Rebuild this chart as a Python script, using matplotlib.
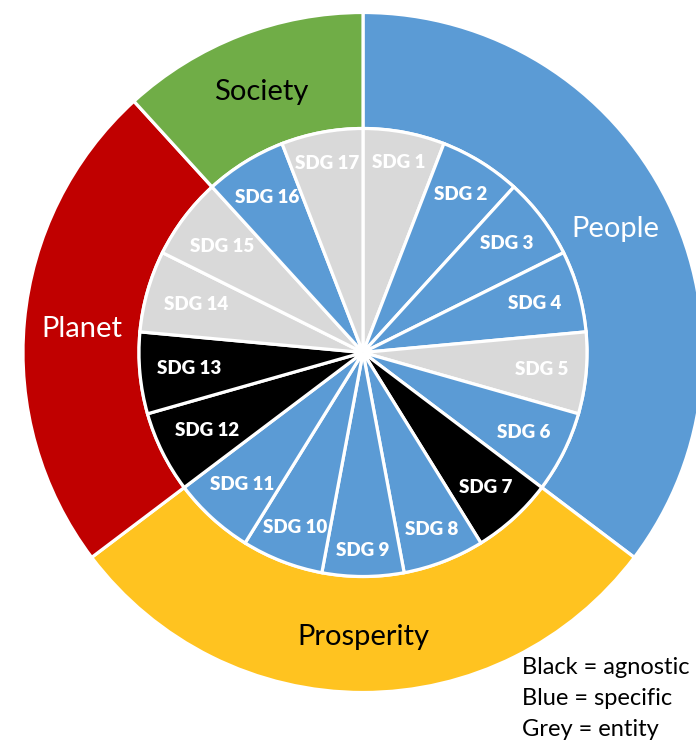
import numpy as np
import matplotlib.pyplot as plt

plt.rcParams['font.family'] = ['Lato', 'DejaVu Sans']

# inner ring: 17 SDGs, all equal size
sdg_labels = ['SDG %d' % i for i in range(1, 18)]
sdg_sizes = [1] * 17
sdg_kind = ['grey', 'blue', 'blue', 'blue', 'grey', 'blue', 'black', 'blue', 'blue',
            'blue', 'blue', 'black', 'black', 'grey', 'grey', 'blue', 'grey']

# outer ring: groups of SDGs
groups = ['People', 'Prosperity', 'Planet', 'Society']
group_sizes = [6, 5, 4, 2]
group_colors = ['#5B9BD5', '#FFC320', '#C00000', '#70AD47']
group_text = ['white', 'black', 'white', 'black']

legend_lines = ['Black = agnostic', 'Blue = specific', 'Grey = entity']

kind_color = {'grey': '#D9D9D9', 'blue': '#5B9BD5', 'black': '#000000'}

W, H = 696, 741
cx, cy = 363, 352.5     # centre in pixels from top-left
r_out, r_in = 340, 224

fig = plt.figure(figsize=(W / 100, H / 100), dpi=100)
ax = fig.add_axes([0, 0, 1, 1])

ax.pie(group_sizes, radius=r_out, colors=group_colors, startangle=90, counterclock=False,
       wedgeprops=dict(width=r_out - r_in, edgecolor='white', linewidth=2.3))
ax.pie(sdg_sizes, radius=r_in, colors=[kind_color[k] for k in sdg_kind], startangle=90,
       counterclock=False, wedgeprops=dict(edgecolor='white', linewidth=2.3))

ax.set_xlim(-cx, W - cx)
ax.set_ylim(-(H - cy), cy)
ax.set_aspect('equal')
ax.axis('off')

# group labels in the middle of the ring
tot = sum(group_sizes)
start = 0
for g, s, tc in zip(groups, group_sizes, group_text):
    mid = np.deg2rad((start + s / 2) / tot * 360)
    rr = (r_out + r_in) / 2
    ax.text(rr * np.sin(mid), rr * np.cos(mid), g, color=tc, fontsize=21,
            ha='center', va='center_baseline')
    start += s

# SDG labels near the outer edge of the inner pie
fig.canvas.draw()
rend = fig.canvas.get_renderer()
r_edge = 207
for i, lab in enumerate(sdg_labels):
    mid = np.deg2rad((i + 0.5) / 17 * 360)
    ux, uy = np.sin(mid), np.cos(mid)
    t = ax.text(0, 0, lab, color='white', fontsize=13.5, fontweight='heavy',
                ha='center', va='center')
    bb = t.get_window_extent(rend)
    hw, hh = bb.width / 2, bb.height / 2   # pixels == data units here
    rr = r_edge - (hw * abs(ux) + hh * abs(uy))
    t.set_position((rr * ux, rr * uy))

for k, line in enumerate(legend_lines):
    fig.text(522 / W, 1 - (668 + 30.5 * k) / H, line, fontsize=17, ha='left', va='center')

fig.savefig('out.png', dpi=100)
